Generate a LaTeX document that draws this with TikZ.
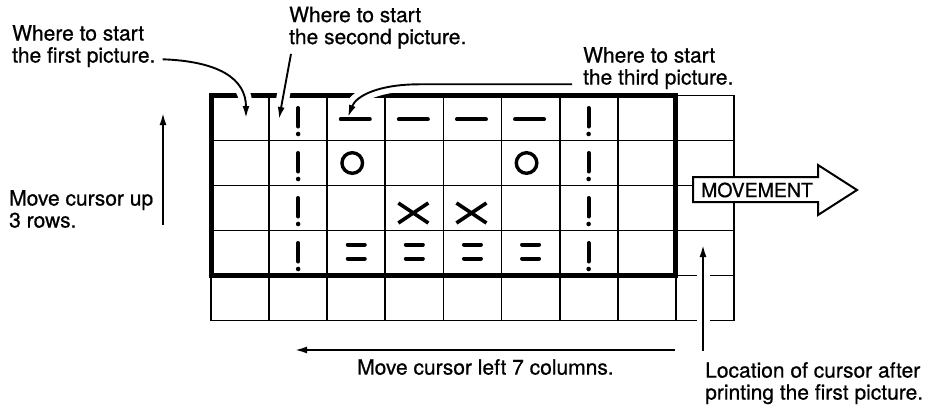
\documentclass[tikz,border=0pt]{standalone}
\usepackage{fontspec}
\setmainfont{TeX Gyre Heros}[FakeBold=0.7]
\usetikzlibrary{arrows.meta}

\begin{document}
\begin{tikzpicture}[
  x=1pt, y=-1pt,
  note/.style={align=left,inner sep=0pt,anchor=north west,font=\fontsize{21pt}{22pt}\selectfont},
  arrow/.style={-{Latex[length=12pt,width=7pt]},line width=1.9pt,
    preaction={draw=white,line width=13pt,-,shorten >=11pt}},
  thin/.style={line width=1.8pt,line cap=rect},
  frame/.style={line width=5pt},
  ink/.style={line width=4pt,line cap=round},
  excl/.pic={\draw[ink] (0pt,10pt)--(0pt,-8.5pt); \fill (0pt,-16pt) circle (2.3pt);},
  bar/.pic={\draw[ink] (-15.5pt,-1.3pt)--(13.5pt,-1.3pt);},
  ring/.pic={\draw[line width=3.4pt] (-4pt,0pt) circle (10.3pt);},
  cross/.pic={\draw[line width=3.6pt] (-16pt,5pt)--(14pt,-15pt) (-16pt,-15pt)--(14pt,5pt);},
  dbl/.pic={\draw[ink] (-8.5pt,8.5pt)--(8.5pt,8.5pt) (-8.5pt,-5.5pt)--(8.5pt,-5.5pt);}
]
\useasboundingbox (0,0) rectangle (935,407);

% cell centres
\foreach \c in {1,...,9}
  \foreach \r in {1,...,5}
    \coordinate (c\c\r) at ({211+(\c-.5)*58.1},{95.5+(\r-.5)*45});

% grid and picture frame
\foreach \i in {0,...,9}
  \draw[thin] ({211+\i*58.1},95.5) -- ({211+\i*58.1},320.5);
\foreach \j in {0,...,5}
  \draw[thin] (211,{95.5+\j*45}) -- (733.9,{95.5+\j*45});
\draw[frame] (211,95.5) rectangle (675.8,275.5);

% labels
\node[note] (first) at (12,25) {Where to start\\the first picture.};
\node[note] (second) at (289,6.6) {Where to start\\the second picture.};
\node[note] (third) at (583,47) {Where to start\\the third picture.};
\node[note] (up) at (9,190) {Move cursor up\\3 rows.};
\node[note] (left) at (357,359) {Move cursor left 7 columns.};
\node[note] (loc) at (705,362) {Location of cursor after\\printing the first picture.};

\coordinate (firstcell) at (246,118);
\coordinate (secondcell) at (279,119);
\coordinate (thirdcell) at (348,117);
\coordinate (loccell) at (703,245);
\coordinate (uptail) at (163,225);
\coordinate (uphead) at (163,113);
\coordinate (lefttail) at (675,350);
\coordinate (lefthead) at (295,350);

\draw[arrow] ([xshift=7pt,yshift=8pt]first.south east) .. controls +(55pt,-2pt) and +(0pt,40pt) .. (firstcell);
\draw[arrow] ([xshift=2pt,yshift=-5pt]second.south west) -- (secondcell);
\draw[arrow] ([xshift=-11pt,yshift=5pt]third.south west) -- ++(-152pt,0pt)
  .. controls +(-42pt,0pt) and +(8pt,21pt) .. (thirdcell);
\draw[arrow] ([xshift=-2pt,yshift=11pt]loc.north west) -- (loccell);
\draw[arrow] (uptail) -- (uphead);
\draw[arrow] (lefttail) -- (lefthead);

% printed characters
\foreach \c in {2,7}
  \foreach \r in {1,...,4}
    \pic at (c\c\r) {excl};
\foreach \c in {3,...,6} {
  \pic at (c\c1) {bar};
  \pic at (c\c4) {dbl};
}
\pic at (c32) {ring};
\pic at (c62) {ring};
\pic at (c43) {cross};
\pic at (c53) {cross};

% movement arrow
\draw[line width=2pt,fill=white] (693,177) -- (818,177) -- (818,165) -- (857,190)
  -- (818,215) -- (818,202) -- (693,202) -- cycle;
\node[font=\fontsize{19.5pt}{20pt}\selectfont,inner sep=0pt] (move) at (757,190) {MOVEMENT};
\end{tikzpicture}
\end{document}
